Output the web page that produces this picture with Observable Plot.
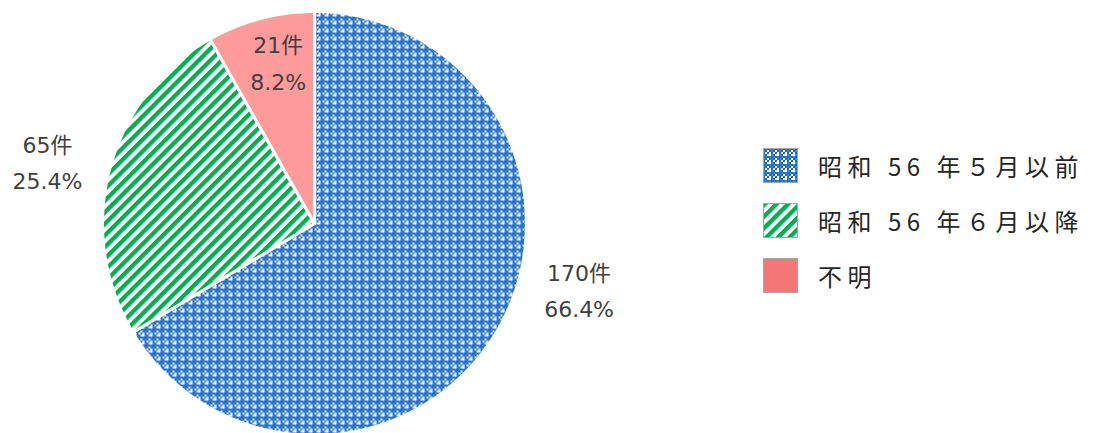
<!DOCTYPE html>
<html><head><meta charset="utf-8">
<script src="https://cdn.jsdelivr.net/npm/d3@7"></script>
<script src="https://cdn.jsdelivr.net/npm/@observablehq/plot@0.6"></script>
<style>
body{margin:0;background:#fff;}
#wrap{position:relative;width:1093px;height:433px;overflow:hidden;}
#legend{position:absolute;left:763px;top:148px;font-family:"Noto Sans CJK JP","Noto Sans";font-size:24px;color:#262626;letter-spacing:5.5px;}
.item{display:flex;align-items:center;height:35px;margin-bottom:20px;white-space:nowrap;}
.item svg{margin-right:20px;flex:none;}
</style></head><body><div id="wrap"><div id="legend"></div></div>
<script>
// ---- data ----
const categories = ["昭和 56 年５月以前", "昭和 56 年６月以降", "不明"];
const counts = [170, 65, 21];
const countLabels = ["170件", "65件", "21件"];
const percentLabels = ["66.4%", "25.4%", "8.2%"];

// ---- style / layout ----
const sliceFills = ["url(#pBlue)", "url(#pGreen)", "#ff9b9b"];
const legendFills = ["url(#pBlue)", "url(#pGreen)", "#f57676"];
const labelPlacement = [{angle: 103.6, r: 1.284}, {angle: 283.5, r: 1.295}, {angle: 347.5, r: 0.79}];
const W = 1093, H = 433, CX = 314, CY = 223, R = 212;

const data = categories.map((c, i) => ({category: c, count: counts[i], i}));
const arcs = d3.pie().sort(null).value(d => d.count)(data);

const slicePts = arcs.map(a => {
  const pts = [{x: 0, y: 0}];
  const n = Math.max(2, Math.ceil((a.endAngle - a.startAngle) / (Math.PI / 360)));
  for (let k = 0; k <= n; k++) {
    const t = a.startAngle + (a.endAngle - a.startAngle) * k / n;
    pts.push({x: Math.sin(t), y: Math.cos(t)});
  }
  pts.push({x: 0, y: 0});
  return pts;
});

const labels = data.map((d, i) => {
  const t = labelPlacement[i].angle * Math.PI / 180;
  return {x: Math.sin(t) * labelPlacement[i].r, y: Math.cos(t) * labelPlacement[i].r,
          text: countLabels[i] + "\n" + percentLabels[i]};
});

const svg = Plot.plot({
  width: W, height: H,
  margin: 0,
  x: {domain: [-CX / R, (W - CX) / R], axis: null},
  y: {domain: [(CY - H) / R, CY / R], axis: null},
  marks: [
    ...slicePts.map((pts, i) => Plot.line(pts, {x: "x", y: "y", fill: sliceFills[i], stroke: "white", strokeWidth: 3, strokeLinejoin: "round", curve: "linear"})),
    Plot.text(labels, {x: "x", y: "y", text: "text", fontSize: 22, lineHeight: 1.65, fill: "#404040", fontFamily: "DejaVu Sans, Noto Sans CJK JP"})
  ]
});

function addPatterns(el) {
  const defs = d3.select(el).insert("defs", ":first-child");
  const pb = defs.append("pattern").attr("id", "pBlue").attr("width", 8).attr("height", 8).attr("patternUnits", "userSpaceOnUse");
  pb.append("rect").attr("width", 8).attr("height", 8).attr("fill", "#ffffff");
  for (let i = 0; i < 4; i++) for (let j = 0; j < 4; j++) {
    if ((i + j) % 2 === 0 && !(i === 3 && j === 3)) pb.append("rect").attr("x", i * 2).attr("y", j * 2).attr("width", 2).attr("height", 2).attr("fill", "#1468c4");
    else if ((i + j) % 2 === 1 && (i === 0 || j === 0)) pb.append("rect").attr("x", i * 2).attr("y", j * 2).attr("width", 2).attr("height", 2).attr("fill", "#3d86d4");
  }
  const pg = defs.append("pattern").attr("id", "pGreen").attr("width", 8.2).attr("height", 8.2).attr("patternUnits", "userSpaceOnUse").attr("patternTransform", "rotate(45)");
  pg.append("rect").attr("width", 8.2).attr("height", 8.2).attr("fill", "#ffffff");
  pg.append("rect").attr("width", 4.3).attr("height", 8.2).attr("fill", "#00b050");
}
addPatterns(svg);
document.getElementById("wrap").prepend(svg);

const legend = d3.select("#legend");
categories.forEach((c, i) => {
  const item = legend.append("div").attr("class", "item");
  const s = item.append("svg").attr("width", 35).attr("height", 35);
  s.append("rect").attr("x", 0.5).attr("y", 0.5).attr("width", 34).attr("height", 34).attr("fill", legendFills[i]).attr("stroke", "#a6a6a6").attr("stroke-width", 1);
  item.append("span").text(c);
});
</script>
</body></html>
